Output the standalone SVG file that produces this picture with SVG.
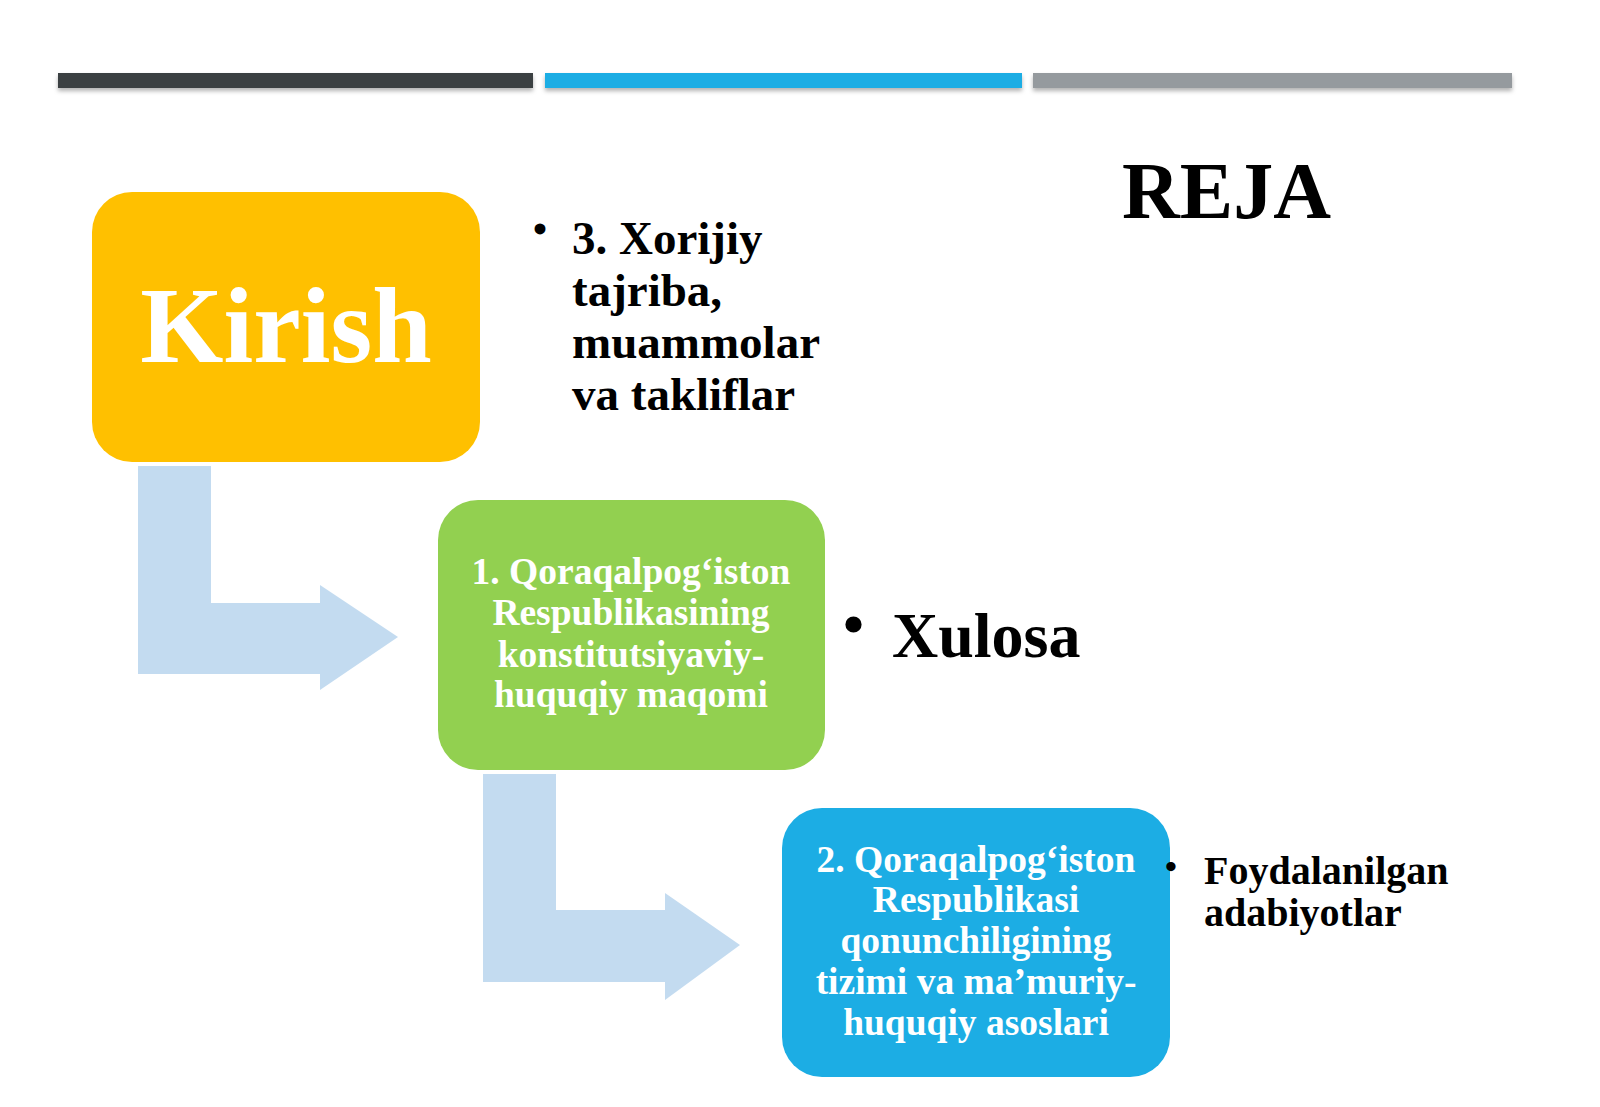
<svg xmlns="http://www.w3.org/2000/svg" width="1600" height="1107" viewBox="0 0 1600 1107">
<defs>
<style>
.t{font-family:"Liberation Serif",serif;font-weight:bold}
.w{fill:#fff;text-anchor:middle}
.arr{fill:#BDD7EE;opacity:0.9}
</style>
<filter id="sh" x="-5%" y="-50%" width="110%" height="250%"><feDropShadow dx="0" dy="3" stdDeviation="2" flood-opacity="0.3"/></filter>
</defs>
<rect width="1600" height="1107" fill="#fff"/>
<g id="bars" filter="url(#sh)">
<rect x="58" y="73" width="475" height="15" fill="#3B4043"/>
<rect x="545" y="73" width="477" height="15" fill="#1CADE4"/>
<rect x="1033" y="73" width="479" height="15" fill="#959A9E"/>
</g>
<g id="connectors">
<path class="arr" d="M138 466H211V603H320V585L398 637L320 690V674H138Z"/>
<path class="arr" d="M483 774H556V910H665V893L740 945L665 1000V982H483Z"/>
</g>
<g id="kirish">
<rect x="92" y="192" width="388" height="270" rx="40" fill="#FFC000"/>
<text class="t w" x="286" y="362" font-size="107">Kirish</text>
</g>
<g id="item1">
<rect x="438" y="500" width="387" height="270" rx="40" fill="#92D050"/>
<text class="t w" font-size="37.5"><tspan x="631" y="584">1. Qoraqalpog‘iston</tspan><tspan x="631" y="625">Respublikasining</tspan><tspan x="631" y="667">konstitutsiyaviy-</tspan><tspan x="631" y="707">huquqiy maqomi</tspan></text>
</g>
<g id="item2">
<rect x="782" y="808" width="388" height="269" rx="40" fill="#1CADE4"/>
<text class="t w" font-size="37.5"><tspan x="976" y="872">2. Qoraqalpog‘iston</tspan><tspan x="976" y="912">Respublikasi</tspan><tspan x="976" y="953">qonunchiligining</tspan><tspan x="976" y="994">tizimi va ma’muriy-</tspan><tspan x="976" y="1035">huquqiy asoslari</tspan></text>
</g>
<g id="texts">
<text class="t" x="1122" y="218" font-size="80">REJA</text>
<text class="t" x="533" y="243" font-size="40">•</text>
<text class="t" font-size="47"><tspan x="572" y="254">3. Xorijiy</tspan><tspan x="572" y="306">tajriba,</tspan><tspan x="572" y="358">muammolar</tspan><tspan x="572" y="410">va takliflar</tspan></text>
<text class="t" x="843" y="644" font-size="60">•</text>
<text class="t" x="892" y="657" font-size="64">Xulosa</text>
<text class="t" x="1165" y="878" font-size="34">•</text>
<text class="t" font-size="40"><tspan x="1204" y="884">Foydalanilgan</tspan><tspan x="1204" y="926">adabiyotlar</tspan></text>
</g>
</svg>
